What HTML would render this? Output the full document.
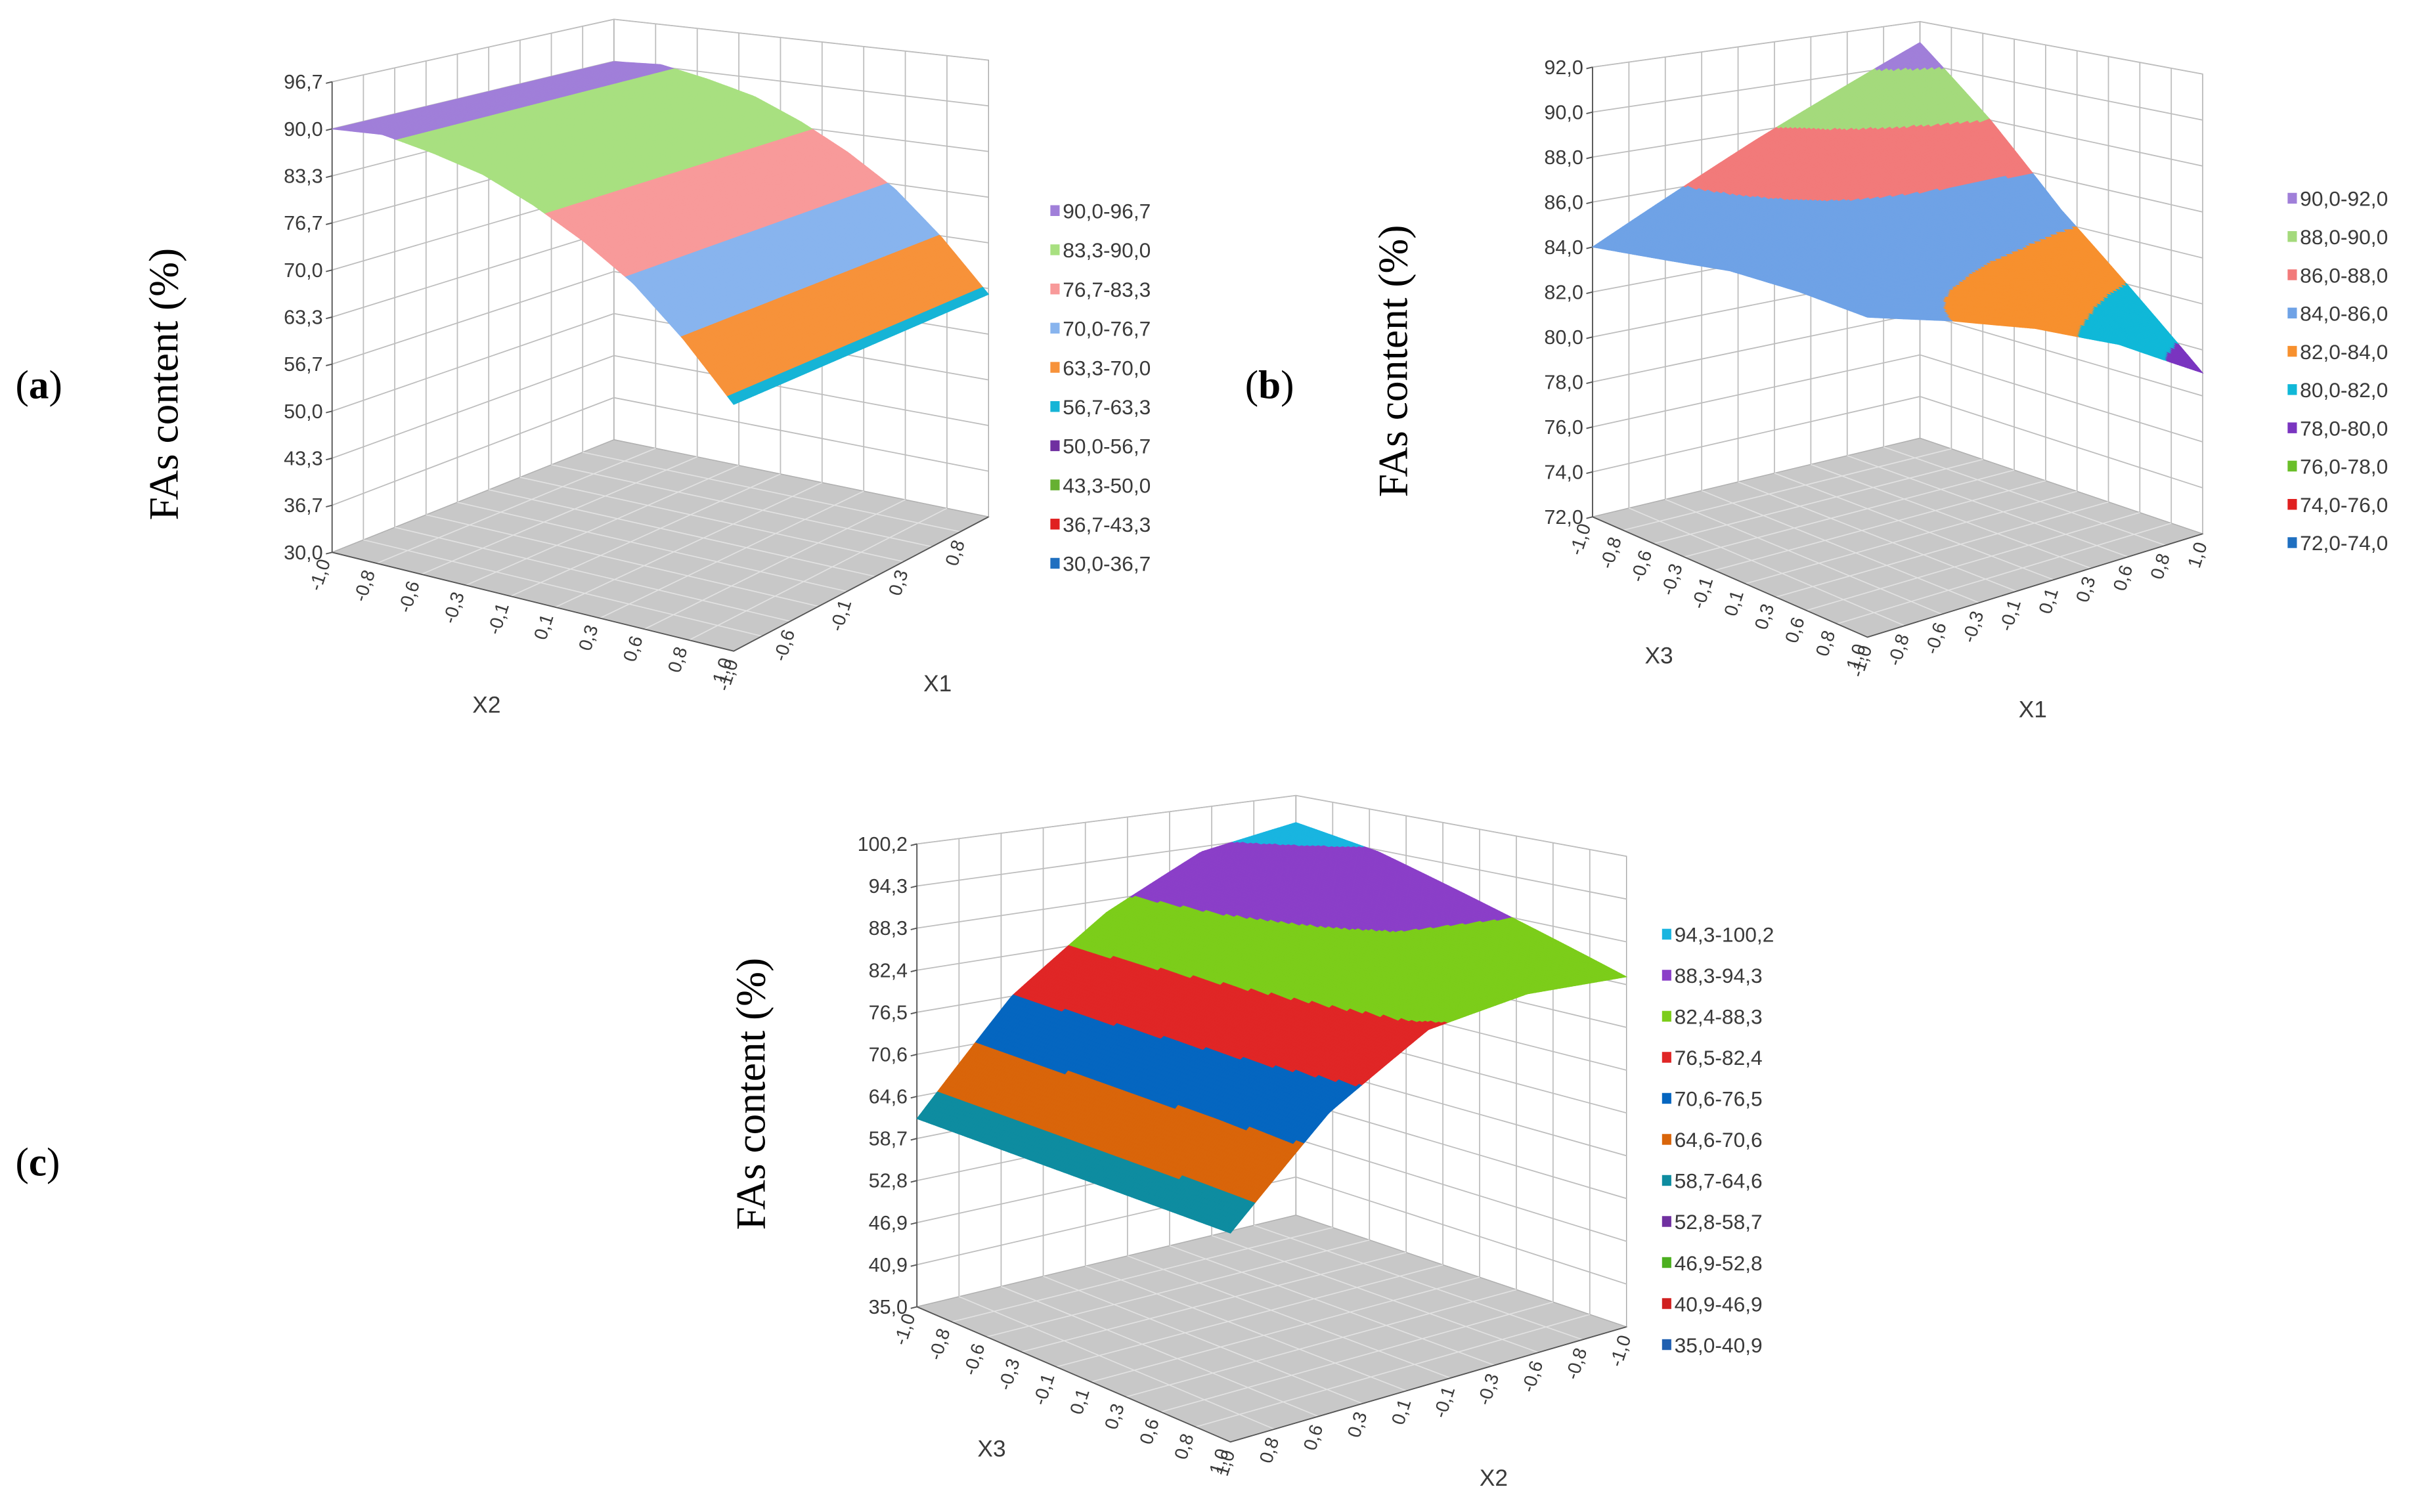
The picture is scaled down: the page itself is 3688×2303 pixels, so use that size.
<!DOCTYPE html>
<html><head><meta charset="utf-8"><style>
html,body{margin:0;padding:0;background:#fff;}
svg{display:block;}
text{font-family:"Liberation Sans",sans-serif;fill:#3a3a3a;}
.serif{font-family:"Liberation Serif",serif;fill:#000;}
</style></head><body>
<svg id="fig" xmlns="http://www.w3.org/2000/svg" width="3688" height="2303" viewBox="0 0 1568 980" preserveAspectRatio="none">
<rect x="0" y="0" width="1568" height="980" fill="#fff"/>
<text class="serif" x="10" y="258" font-size="26">(<tspan font-weight="bold">a</tspan>)</text>
<text class="serif" x="806" y="258" font-size="26">(<tspan font-weight="bold">b</tspan>)</text>
<text class="serif" x="10" y="762" font-size="26">(<tspan font-weight="bold">c</tspan>)</text>
<text class="serif" transform="translate(115,249) rotate(-90)" text-anchor="middle" font-size="27">FAs content (%)</text>
<text class="serif" transform="translate(911,234) rotate(-90)" text-anchor="middle" font-size="27">FAs content (%)</text>
<text class="serif" transform="translate(495,709) rotate(-90)" text-anchor="middle" font-size="27">FAs content (%)</text>
<text x="315" y="462" font-size="15" text-anchor="middle">X2</text>
<text x="607" y="448" font-size="15" text-anchor="middle">X1</text>
<text x="1074" y="430" font-size="15" text-anchor="middle">X3</text>
<text x="1316" y="465" font-size="15" text-anchor="middle">X1</text>
<text x="642" y="944" font-size="15" text-anchor="middle">X3</text>
<text x="967" y="963" font-size="15" text-anchor="middle">X2</text>
</svg>
<script>
// ===== Chart (a) data =====
const aZTicks = ["30,0","36,7","43,3","50,0","56,7","63,3","70,0","76,7","83,3","90,0","96,7"];
const aBands = [30.0,36.7,43.3,50.0,56.7,63.3,70.0,76.7,83.3,90.0,96.7];
const aBandColors = ["#1f6fc0","#e02020","#66b032","#7030a0","#16b4d6","#f7923a","#88b4ee","#f89a9a","#a8e080","#a07fd9"];
const aLegend = ["30,0-36,7","36,7-43,3","43,3-50,0","50,0-56,7","56,7-63,3","63,3-70,0","70,0-76,7","76,7-83,3","83,3-90,0","90,0-96,7"];
const aX2Ticks = ["-1,0","-0,8","-0,6","-0,3","-0,1","0,1","0,3","0,6","0,8","1,0"];
const aX1Ticks = ["-1,0","","-0,6","","-0,1","","0,3","","0,8",""];
const aProfileX2 = [-1,-0.75,-0.5,-0.25,0,0.25,0.5,0.75,1];
const aProfileZ = [90.0,90.4,89.0,87.2,84.2,80.5,76.0,69.8,62.5];

// ===== Chart (b) data =====
const bZTicks = ["72,0","74,0","76,0","78,0","80,0","82,0","84,0","86,0","88,0","90,0","92,0"];
const bBands = [72,74,76,78,80,82,84,86,88,90,92];
const bBandColors = ["#1f6fc0","#e02020","#6abf2a","#7a35c0","#10b8d8","#f7902e","#6fa2e6","#f27a7a","#a4da7c","#a07fd9"];
const bLegend = ["72,0-74,0","74,0-76,0","76,0-78,0","78,0-80,0","80,0-82,0","82,0-84,0","84,0-86,0","86,0-88,0","88,0-90,0","90,0-92,0"];
const bX3Ticks = ["-1,0","-0,8","-0,6","-0,3","-0,1","0,1","0,3","0,6","0,8","1,0"];
const bX1Ticks = ["-1,0","-0,8","-0,6","-0,3","-0,1","0,1","0,3","0,6","0,8","1,0"];
const bGridX3 = [-1,-0.5,0,0.5,1];
const bGridX1 = [-1,-0.5,0,0.5,1];
const bZrow0 = [84.0,85.8,87.6,89.3,91.0];
const bZrow1 = [84.5,85.4,86.4,87.2,88.0];
const bZrow2 = [85.0,85.1,85.2,85.1,84.6];
const bZrow3 = [85.1,84.6,84.0,83.1,81.8];
const bZrow4 = [85.0,84.0,82.8,81.2,79.0];

// ===== Chart (c) data =====
const cZTicks = ["35,0","40,9","46,9","52,8","58,7","64,6","70,6","76,5","82,4","88,3","94,3","100,2"];
const cBands = [35.0,40.9,46.9,52.8,58.7,64.6,70.6,76.5,82.4,88.3,94.3,100.2];
const cBandColors = ["#1f5fb0","#d02020","#4caf20","#7030a0","#0e8ca0","#d9650a","#0566c0","#e02626","#7ccd1a","#8b3fc8","#19b5e0"];
const cLegend = ["35,0-40,9","40,9-46,9","46,9-52,8","52,8-58,7","58,7-64,6","64,6-70,6","70,6-76,5","76,5-82,4","82,4-88,3","88,3-94,3","94,3-100,2"];
const cX3Ticks = ["-1,0","-0,8","-0,6","-0,3","-0,1","0,1","0,3","0,6","0,8","1,0"];
const cX2Ticks = ["1,0","0,8","0,6","0,3","0,1","-0,1","-0,3","-0,6","-0,8","-1,0"];
const cGridX3 = [-1,-0.5,0,0.5,1];
const cGridX2 = [-1,-0.5,0,0.5,1];
const cZrow0 = [96.0,93.5,86.5,76.5,61.5];
const cZrow1 = [94.0,92.0,86.0,76.0,61.5];
const cZrow2 = [90.5,89.5,85.0,75.5,61.5];
const cZrow3 = [87.0,86.5,83.5,75.0,61.5];
const cZrow4 = [83.5,84.0,82.0,74.0,61.5];

const NS = 'http://www.w3.org/2000/svg';
const svg = document.getElementById('fig');
function mk(tag, attrs, parent){
  const e = document.createElementNS(NS, tag);
  for (const k in attrs) e.setAttribute(k, attrs[k]);
  (parent || svg).appendChild(e);
  return e;
}
function interp1(xs, ys, x){
  if (x <= xs[0]) return ys[0];
  for (let i = 1; i < xs.length; i++){
    if (x <= xs[i]){ const t = (x - xs[i-1])/(xs[i]-xs[i-1]); return ys[i-1]*(1-t) + ys[i]*t; }
  }
  return ys[ys.length-1];
}
function interp2(rs, cs, rows, r, c){
  const col = rows.map(row => interp1(cs, row, c));
  return interp1(rs, col, r);
}
function proj(c, u, v, zn){
  const w = [(1-u)*(1-v), u*(1-v), u*v, (1-u)*v];
  const P = [c.L, c.F, c.R, c.B];
  const H = [c.hL, c.hF, c.hR, c.hB];
  let x = 0, y = 0, h = 0;
  for (let k = 0; k < 4; k++){ x += w[k]*P[k][0]; y += w[k]*P[k][1]; h += w[k]*H[k]; }
  return [x, y - zn*h];
}
function bandIndex(bands, z){
  for (let k = 0; k < bands.length-1; k++){ if (z < bands[k+1]) return Math.max(k,0); }
  return bands.length-2;
}

function drawChart(c){
  const g = mk('g', {});
  
  
  const zmin = c.bands[0], zmax = c.bands[c.bands.length-1];
  const nZ = c.zTicks.length - 1;
  const pt = (u,v,zn) => proj(c,u,v,zn).map(n=>n.toFixed(2)).join(',');
  const lw = mk('polygon', {points:[pt(0,0,0),pt(0,1,0),pt(0,1,1),pt(0,0,1)].join(' '), fill:'#fff', stroke:'#a8a8a8', 'stroke-width':0.6}, g);
  
  
  const rw = mk('polygon', {points:[pt(0,1,0),pt(1,1,0),pt(1,1,1),pt(0,1,1)].join(' '), fill:'#fff', stroke:'#a8a8a8', 'stroke-width':0.6}, g);
  
  
  const fl = mk('polygon', {points:[pt(0,0,0),pt(1,0,0),pt(1,1,0),pt(0,1,0)].join(' '), fill:'#c8c8c8', stroke:'#b0b0b0', 'stroke-width':0.6}, g);
  
  
  let d = '';
  for (let k = 1; k <= nZ; k++){
    const zn = k/nZ;
    d += 'M' + pt(0,0,zn) + 'L' + pt(0,1,zn) + 'L' + pt(1,1,zn);
  }
  for (let i = 1; i < 9; i++){
    const t = i/9;
    d += 'M' + pt(0,t,0) + 'L' + pt(0,t,1);
    d += 'M' + pt(t,1,0) + 'L' + pt(t,1,1);
  }
  const wg = mk('path', {d:d, stroke:'#bdbdbd', 'stroke-width':0.75, fill:'none'}, g);
  
  
  let fd = '';
  for (let i = 1; i < 9; i++){
    const t = i/9;
    fd += 'M' + pt(t,0,0) + 'L' + pt(t,1,0);
    fd += 'M' + pt(0,t,0) + 'L' + pt(1,t,0);
  }
  const fg = mk('path', {d:fd, stroke:'#e2e2e2', 'stroke-width':0.7, fill:'none'}, g);
  
  
  const ax = mk('path', {d:'M'+pt(0,0,0)+'L'+pt(0,0,1)+'M'+pt(0,0,0)+'L'+pt(1,0,0)+'L'+pt(1,1,0), stroke:'#555', 'stroke-width':0.8, fill:'none'}, g);
  
  
  for (let k = 0; k <= nZ; k++){
    const p = proj(c,0,0,k/nZ);
    const tk = mk('line', {x1:p[0]-4, y1:p[1]+1, x2:p[0], y2:p[1], stroke:'#555', 'stroke-width':0.8}, g);
    
    
    const t = mk('text', {x:p[0]-6, y:p[1]+4.5, 'font-size':13, 'text-anchor':'end'}, g);
    t.textContent = c.zTicks[k];
    
    
  }
  for (let i = 0; i < 10; i++){
    const p = proj(c, i/9, 0, 0);
    const t = mk('text', {transform:'translate('+(p[0]-1).toFixed(1)+','+(p[1]+6).toFixed(1)+') rotate(-72)', 'font-size':12, 'text-anchor':'end'}, g);
    t.textContent = c.uTicks[i];
    
    
    const q = proj(c, 1, i/9, 0);
    const t2 = mk('text', {transform:'translate('+(q[0]+3).toFixed(1)+','+(q[1]+7).toFixed(1)+') rotate(-72)', 'font-size':12, 'text-anchor':'end'}, g);
    t2.textContent = c.vTicks[i];
    
    
  }
  const N = 130;
  const quads = [];
  for (let i = 0; i < N; i++) for (let j = 0; j < N; j++) quads.push([i,j]);
  quads.sort((a,b) => (a[0]-a[1]) - (b[0]-b[1]));
  const sg = mk('g', {}, g);
  
  
  const zn = z => (z - zmin)/(zmax - zmin);
  for (const [i,j] of quads){
    const u0 = i/N, u1 = (i+1)/N, v0 = j/N, v1 = (j+1)/N;
    const z00 = c.zfun(u0,v0), z10 = c.zfun(u1,v0), z11 = c.zfun(u1,v1), z01 = c.zfun(u0,v1);
    const zc = c.zfun((u0+u1)/2, (v0+v1)/2);
    const col = c.colors[bandIndex(c.bands, zc)];
    const pts = [pt(u0,v0,zn(z00)), pt(u1,v0,zn(z10)), pt(u1,v1,zn(z11)), pt(u0,v1,zn(z01))].join(' ');
    const q = mk('polygon', {points:pts, fill:col, stroke:col, 'stroke-width':0.45}, sg);
    
    
  }
  const n = c.legend.length;
  for (let k = 0; k < n; k++){
    const idx = n-1-k;
    const y = c.legY + k*c.legStep;
    const sq = mk('rect', {x:c.legX, y:y-4, width:6, height:7, fill:c.colors[idx]}, g);
    
    
    const t = mk('text', {x:c.legX+8, y:y+4.5, 'font-size':13.5}, g);
    t.textContent = c.legend[idx];
    
    
  }
}

drawChart({id:'chart-a', L:[215,358], F:[475,422], R:[640,335], B:[397.5,285],
  hL:305, hF:328, hR:296, hB:272.5,
  bands:aBands, colors:aBandColors, legend:aLegend, zTicks:aZTicks, uTicks:aX2Ticks, vTicks:aX1Ticks,
  legX:680, legY:137, legStep:25.4,
  zfun:(u,v) => interp1(aProfileX2, aProfileZ, -1 + 2*u)});

const bRows = [bZrow0,bZrow1,bZrow2,bZrow3,bZrow4];
drawChart({id:'chart-b', L:[1031,335], F:[1209,413], R:[1426,346], B:[1243,284],
  hL:291.5, hF:319, hR:298, hB:270,
  bands:bBands, colors:bBandColors, legend:bLegend, zTicks:bZTicks, uTicks:bX3Ticks, vTicks:bX1Ticks,
  legX:1481, legY:129, legStep:24.8,
  zfun:(u,v) => interp2(bGridX3, bGridX1, bRows, -1 + 2*u, -1 + 2*v)});

const cRows = [cZrow0,cZrow1,cZrow2,cZrow3,cZrow4];
drawChart({id:'chart-c', L:[593.6,847], F:[796.6,934.6], R:[1053,860], B:[839,787.6],
  hL:300, hF:333, hR:305, hB:272,
  bands:cBands, colors:cBandColors, legend:cLegend, zTicks:cZTicks, uTicks:cX3Ticks, vTicks:cX2Ticks,
  legX:1076, legY:606, legStep:26.6,
  zfun:(u,v) => interp2(cGridX3, cGridX2, cRows, -1 + 2*u, 1 - 2*v)});
</script>
</body></html>
